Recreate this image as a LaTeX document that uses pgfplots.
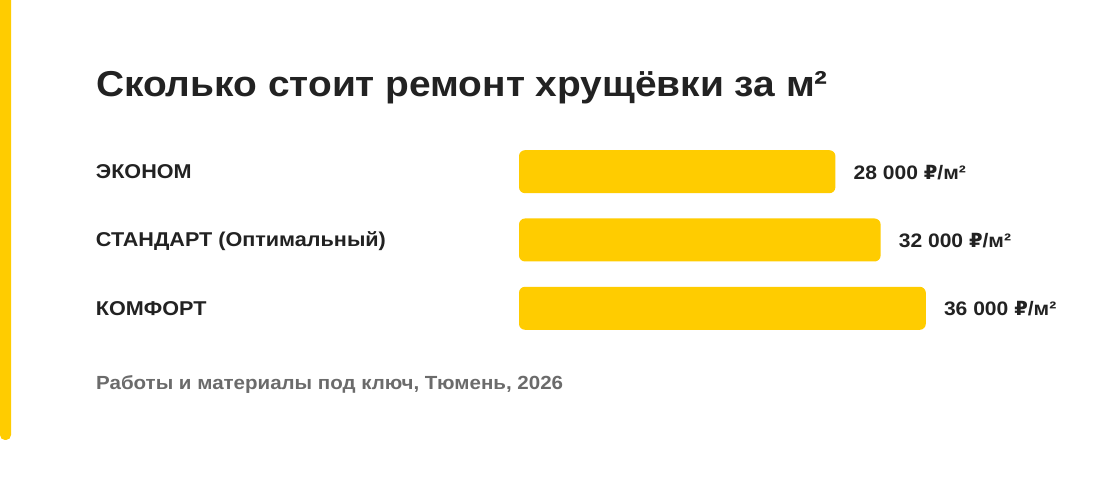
\documentclass[border=0pt]{standalone}
\usepackage{pgfplots}
\pgfplotsset{compat=1.18}
\usepackage{fontspec}
\setmainfont{Liberation Sans}[FakeStretch=1.08]
\newfontfamily\rubfont{DejaVu Sans}
\newcommand{\rub}{{\rubfont\bfseries ₽}}
\definecolor{yel}{HTML}{FFCC00}
\definecolor{txt}{HTML}{222222}
\definecolor{gr}{HTML}{6B6B6B}
\begin{document}
\begin{tikzpicture}[x=1bp,y=1bp]
\path[fill=white,use as bounding box] (0,0) rectangle (1100,483);
\fill[yel,rounded corners=5bp] (0,43) rectangle (11,500);
\node[anchor=base west, inner sep=0pt, text=txt, font=\fontsize{36bp}{40bp}\selectfont\bfseries] at (96,{483-96.5}) {Сколько стоит ремонт хрущёвки за м²};
\node[anchor=base west, inner sep=0pt, text=gr, font=\fontsize{19bp}{22bp}\selectfont\bfseries] at (96,{483-390}) {Работы и материалы под ключ, Тюмень, 2026};
\begin{axis}[
  at={(519bp,140.55bp)}, anchor=south west,
  scale only axis, width=452bp, height=204.9bp,
  xmin=0, xmax=40000, ymin=-0.5, ymax=2.5, y dir=reverse,
  axis line style={draw=none}, tick style={draw=none},
  xtick=\empty, ytick={0,1,2},
  yticklabels={ЭКОНОМ, СТАНДАРТ (Оптимальный), КОМФОРТ},
  yticklabel style={anchor=base west, inner sep=0pt, xshift=-419bp, yshift=-7bp,
    font=\fontsize{20bp}{22bp}\selectfont\bfseries, text=txt},
  xbar, bar width=43bp, clip=false,
  nodes near coords, point meta=explicit symbolic,
  nodes near coords style={anchor=base west, inner sep=0pt, xshift=18bp, yshift=-7.5bp,
    font=\fontsize{19.5bp}{22bp}\selectfont\bfseries, text=txt},
]
\addplot[fill=yel, draw=none, rounded corners=6bp] coordinates {
  (28000,0) [28 000 \rub/м²]
  (32000,1) [32 000 \rub/м²]
  (36000,2) [36 000 \rub/м²]
};
\end{axis}
\end{tikzpicture}
\end{document}
